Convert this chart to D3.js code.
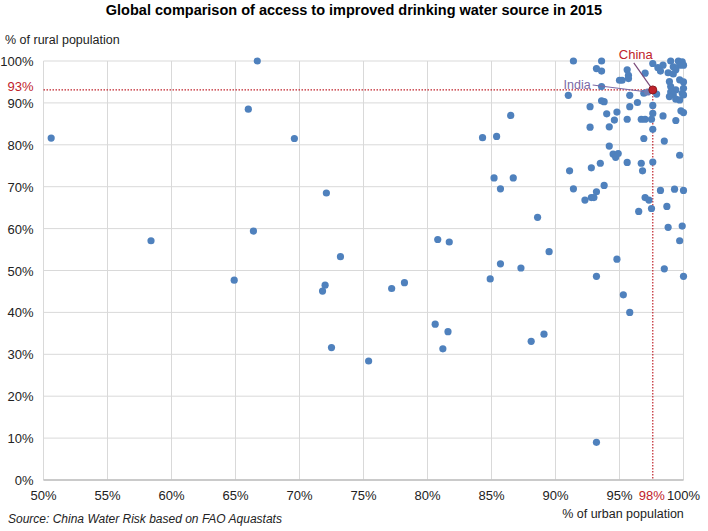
<!DOCTYPE html>
<html>
<head>
<meta charset="utf-8">
<script src="https://cdn.jsdelivr.net/npm/d3@7"></script>
<style>
  body { margin: 0; background: #fff; }
  svg { font-family: "Liberation Sans", Arial, sans-serif; }
</style>
</head>
<body>
<svg id="chart" width="708" height="531"></svg>
<script>
// urban access (%) and rural access (%) per country
const urban = [
  50.6, 58.4, 66.7, 66.0, 66.4, 64.9, 69.6, 72.1, 73.2, 72.0, 71.8, 77.2, 78.2, 80.8, 81.7,
  84.3, 85.4, 86.5, 85.2, 86.7, 85.7, 88.6, 89.5, 85.7, 87.3, 84.9, 72.5, 75.4, 80.6, 81.6,
  81.2, 88.1, 89.1, 95.3, 95.8, 93.2,
  91.1, 92.8, 93.5, 95.6, 96.7, 97.6, 96.8, 91.4, 93.8, 93.2, 92.3, 92.8, 93.0, 97.0, 97.3,
  96.5, 97.5, 98.2, 99.3, 100, 98.7, 98.8, 99.9, 99.7, 94.8, 98.5, 100, 93.2,
  91.4, 93.2, 93.6, 93.6, 95.6, 95.7, 97.0, 95.0, 95.2, 95.7, 93.6, 91.0, 95.8, 93.8, 93.6,
  96.4, 92.7, 94.0, 94.8, 95.8, 95.6, 92.7, 94.2, 94.6, 96.7, 97.0, 97.5, 98.4, 99.4, 96.9,
  98.5, 94.2, 94.5, 94.9, 94.7, 99.7, 97.6, 97.6, 97.6,
  97.6, 98.0, 98.4, 98.2, 99.0, 99.2, 99.6, 99.9, 99.7, 99.4, 98.8, 100, 99.2, 99.7, 98.9,
  100, 99.0, 100, 99.4, 99.0, 99.9, 99.2, 100, 98.9, 99.4, 99.7, 97.9, 96.9, 100, 99.8
];
const rural = [
  81.6, 57.1, 100, 88.5, 59.4, 47.7, 81.5, 68.5, 53.3, 46.5, 45.1, 45.7, 47.1, 57.4, 56.8,
  81.7, 82.0, 87.0, 72.1, 72.1, 69.5, 62.7, 54.5, 51.6, 50.6, 48.0, 31.6, 28.4, 37.2, 35.4,
  31.3, 33.1, 34.8, 44.2, 40.0, 9.0,
  73.8, 74.5, 75.6, 75.8, 75.6, 75.9, 73.8, 69.5, 70.3, 68.8, 66.8, 67.4, 67.4, 67.4, 66.8,
  64.1, 64.8, 69.1, 69.4, 69.1, 65.3, 60.3, 60.6, 57.1, 52.7, 50.4, 48.6, 48.6,
  100, 98.2, 97.6, 100, 97.9, 96.6, 97.1, 95.4, 95.4, 95.8, 93.9, 91.8, 91.8, 90.3, 90.5,
  90.1, 89.1, 87.4, 87.8, 89.1, 86.1, 84.2, 84.3, 85.9, 86.1, 86.1, 86.1, 86.9, 85.8, 81.5,
  80.9, 79.7, 77.8, 77.9, 77.0, 77.5, 89.4, 87.5, 83.7,
  99.4, 98.4, 99.0, 97.6, 100, 98.6, 100, 99.8, 99.0, 97.9, 97.2, 99.0, 96.9, 95.5, 95.1,
  95.0, 93.9, 93.5, 93.1, 92.6, 92.3, 91.9, 91.9, 91.5, 90.9, 90.7, 92.1, 92.3, 87.7, 88.1
];
const india = { name: "India", urban: 97.2, rural: 92.6 };
const china = { name: "China", urban: 97.6, rural: 93.1 };

const xTicks = [50, 55, 60, 65, 70, 75, 80, 85, 90, 95, 100];
const yTicks = [0, 10, 20, 30, 40, 50, 60, 70, 80, 90, 100];

const svg = d3.select("#chart");
const width = +svg.attr("width");
const height = +svg.attr("height");
const margin = { top: 61, right: 24.5, bottom: 51, left: 43.5 };

const x = d3.scaleLinear().domain([50, 100]).range([margin.left, width - margin.right]);
const y = d3.scaleLinear().domain([0, 100]).range([height - margin.bottom, margin.top]);

const red = "#c0222b";

// title
svg.append("text")
  .attr("x", width / 2).attr("y", 15)
  .attr("text-anchor", "middle")
  .style("font-size", "14.5px").style("font-weight", "bold")
  .text("Global comparison of access to improved drinking water source in 2015");

// gridlines
svg.append("g").selectAll("line").data(xTicks).join("line")
  .attr("x1", d => x(d)).attr("x2", d => x(d))
  .attr("y1", y(0)).attr("y2", y(100))
  .attr("stroke", "#d9d9d9");
svg.append("g").selectAll("line").data(yTicks).join("line")
  .attr("x1", x(50)).attr("x2", x(100))
  .attr("y1", d => y(d)).attr("y2", d => y(d))
  .attr("stroke", "#d9d9d9");

// bottom axis line
svg.append("line")
  .attr("x1", x(50)).attr("x2", x(100))
  .attr("y1", y(0)).attr("y2", y(0))
  .attr("stroke", "#bfbfbf").attr("stroke-width", 1.5);

// tick labels
svg.append("g").selectAll("text").data(xTicks).join("text")
  .attr("x", d => x(d)).attr("y", y(0) + 20)
  .attr("text-anchor", "middle")
  .style("font-size", "13px").style("fill", "#222")
  .text(d => d + "%");
svg.append("g").selectAll("text").data(yTicks).join("text")
  .attr("x", x(50) - 10).attr("y", d => y(d) + 5)
  .attr("text-anchor", "end")
  .style("font-size", "13px").style("fill", "#222")
  .text(d => d + "%");

// axis titles
svg.append("text")
  .attr("x", 5).attr("y", 44)
  .style("font-size", "12.5px").style("fill", "#222")
  .text("% of rural population");
svg.append("text")
  .attr("x", 623).attr("y", 518)
  .attr("text-anchor", "middle")
  .style("font-size", "12.5px").style("fill", "#222")
  .text("% of urban population");

// source
svg.append("text")
  .attr("x", 8).attr("y", 523)
  .style("font-size", "12px").style("font-style", "italic").style("fill", "#222")
  .text("Source: China Water Risk based on FAO Aquastats");

// china reference lines
svg.append("line")
  .attr("x1", x(50)).attr("x2", x(china.urban))
  .attr("y1", y(china.rural)).attr("y2", y(china.rural))
  .attr("stroke", red).attr("stroke-width", 1.2).attr("stroke-dasharray", "1.5,1.5");
svg.append("line")
  .attr("x1", x(china.urban)).attr("x2", x(china.urban))
  .attr("y1", y(china.rural)).attr("y2", y(0))
  .attr("stroke", red).attr("stroke-width", 1.2).attr("stroke-dasharray", "1.5,1.5");

// reference labels (white box over the normal tick)
svg.append("rect")
  .attr("x", x(china.urban) - 14).attr("y", y(0) + 8)
  .attr("width", 28).attr("height", 16).attr("fill", "#fff");
svg.append("text")
  .attr("x", x(china.urban) - 1).attr("y", y(0) + 20)
  .attr("text-anchor", "middle")
  .style("font-size", "13px").style("fill", red)
  .text(Math.round(china.urban) + "%");
svg.append("text")
  .attr("x", x(50) - 10).attr("y", y(china.rural) + 1)
  .attr("text-anchor", "end")
  .style("font-size", "13px").style("fill", red)
  .text(Math.round(china.rural) + "%");

// points
svg.append("g").selectAll("circle").data(d3.range(urban.length)).join("circle")
  .attr("cx", i => x(urban[i])).attr("cy", i => y(rural[i]))
  .attr("r", 3.6)
  .attr("fill", "#4f81bd");

// India
svg.append("line")
  .attr("x1", x(india.urban) - 55).attr("y1", y(india.rural) - 7)
  .attr("x2", x(india.urban)).attr("y2", y(india.rural))
  .attr("stroke", "#7a6aa6").attr("stroke-width", 1.2);
svg.append("circle")
  .attr("cx", x(india.urban)).attr("cy", y(india.rural)).attr("r", 3.6)
  .attr("fill", "#6f7fb5");
svg.append("text")
  .attr("x", x(india.urban) - 57).attr("y", y(india.rural) - 3)
  .attr("text-anchor", "end")
  .style("font-size", "12.5px").style("fill", "#7a6aa6")
  .text(india.name);

// China
svg.append("line")
  .attr("x1", x(china.urban) - 19).attr("y1", y(china.rural) - 27)
  .attr("x2", x(china.urban)).attr("y2", y(china.rural))
  .attr("stroke", "#7a4a7a").attr("stroke-width", 1.2);
svg.append("circle")
  .attr("cx", x(china.urban)).attr("cy", y(china.rural)).attr("r", 4)
  .attr("fill", red).attr("stroke", "#8a1a20").attr("stroke-width", 1);
svg.append("text")
  .attr("x", x(china.urban) - 17).attr("y", y(china.rural) - 31)
  .attr("text-anchor", "middle")
  .style("font-size", "13px").style("fill", red)
  .text(china.name);
</script>
</body>
</html>
